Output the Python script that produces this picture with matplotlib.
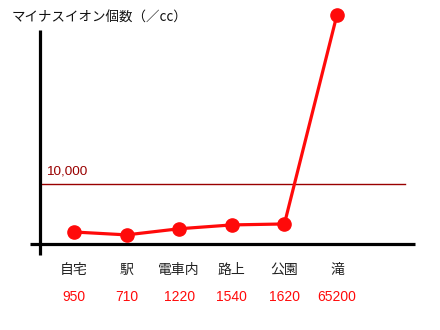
import numpy as np
import matplotlib
matplotlib.use("Agg")
import matplotlib.pyplot as plt
import matplotlib.transforms as mtransforms

plt.rcParams['font.family'] = ['Liberation Sans', 'Noto Sans CJK JP', 'DejaVu Sans']

categories = ["自宅", "駅", "電車内", "路上", "公園", "滝"]
values = [950, 710, 1220, 1540, 1620, 65200]
value_labels = ["950", "710", "1220", "1540", "1620", "65200"]
ref_value = 10000
ref_label = "10,000"
title = "マイナスイオン個数（／cc）"

# piecewise-linear display scale (the original chart is not drawn to a linear scale)
brk_v = np.array([0, 700, 1700, 10000, 70000, 1e7])
brk_h = np.array([0, 9, 21, 60, 244, 244 + (1e7 - 70000) * 184 / 60000])

def fwd(v):
    return np.interp(v, brk_v, brk_h)

def inv(h):
    return np.interp(h, brk_h, brk_v)

W, H = 440, 330
fig = plt.figure(figsize=(W / 100, H / 100), dpi=100)
ax = fig.add_axes([40 / W, 86 / H, 375 / W, 244 / H])
ax.set_yscale('function', functions=(fwd, inv))
ax.set_ylim(0, 70000)
ax.set_xlim(-0.646, 6.483)
ax.set_facecolor('none')
for s in ax.spines.values():
    s.set_visible(False)
ax.set_xticks([])
ax.set_yticks([])
ax.minorticks_off()

x = np.arange(len(categories))
red = '#ff0a0a'
dark = '#990000'

# reference line
ax.axhline(ref_value, xmin=0, xmax=365 / 375, color=dark, lw=1.0, zorder=2)
fig.text(46 / W, 1 - 171 / H, ref_label, color=dark, fontsize=9.7, ha='left', va='center',
         fontfamily=['Liberation Sans'])

# series
ax.plot(x, values, color=red, lw=2.3, marker='o', markersize=9.5, zorder=4, clip_on=False)

# axes lines (in axes coordinates)
ax.plot([-10 / 375, 1.0], [0, 0], transform=ax.transAxes, color='black', lw=2.3, clip_on=False, solid_capstyle='butt', zorder=3)
ax.plot([0, 0], [-11 / 244, 214 / 244], transform=ax.transAxes, color='black', lw=2.3, clip_on=False, solid_capstyle='butt', zorder=3)

# category and value labels
tr = mtransforms.blended_transform_factory(ax.transData, fig.transFigure)
for xi, c, vl in zip(x, categories, value_labels):
    ax.text(xi, 1 - 270 / H, c, transform=tr, ha='center', va='center', fontsize=10, color='#222222',
            fontfamily=['Noto Sans CJK JP'])
    ax.text(xi, 1 - 297 / H, vl, transform=tr, ha='center', va='center', fontsize=10, color=red,
            fontfamily=['Liberation Sans'])

fig.text(12 / W, 1 - 18 / H, title, ha='left', va='center', fontsize=9.7, color='#111111',
         fontfamily=['Noto Sans CJK JP', 'DejaVu Sans'])

fig.savefig('out.png', dpi=100)
